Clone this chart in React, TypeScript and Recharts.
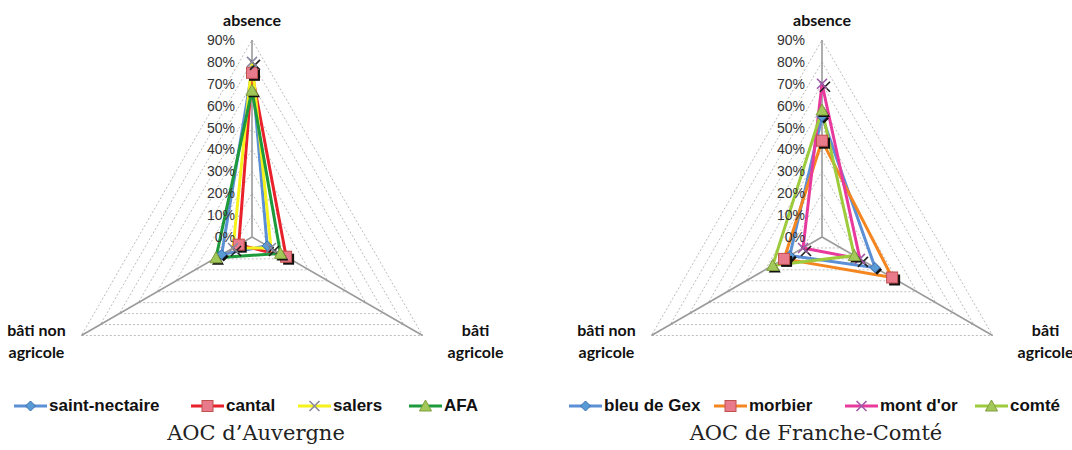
import React from "react";
import { RadarChart, Radar, PolarGrid, PolarAngleAxis, PolarRadiusAxis, Legend } from "recharts";

// axes in drawing order (clockwise from top)
const axes = ["absence", "bâti agricole", "bâti non agricole"];
const radiusTicks = [0, 10, 20, 30, 40, 50, 60, 70, 80, 90];

// AOC d'Auvergne (% per axis)
const saintNectaire = [76, 8, 16];
const cantal = [75, 18, 7];
const salers = [80, 10, 10];
const afa = [67, 15, 19];

// AOC de Franche-Comté
const bleuDeGex = [55, 28, 17];
const morbier = [44, 37, 20];
const montDor = [70, 20, 10];
const comte = [58, 17, 26];

type Kind = "diamond" | "square" | "x" | "triangle";
type Serie = { name: string; values: number[]; color: string; kind: Kind };

const auvergne: Serie[] = [
  { name: "saint-nectaire", values: saintNectaire, color: "#5b8fd6", kind: "diamond" },
  { name: "cantal", values: cantal, color: "#e8212b", kind: "square" },
  { name: "salers", values: salers, color: "#f6f21c", kind: "x" },
  { name: "AFA", values: afa, color: "#1c9a3c", kind: "triangle" },
];

const franche: Serie[] = [
  { name: "bleu de Gex", values: bleuDeGex, color: "#5b8fd6", kind: "diamond" },
  { name: "morbier", values: morbier, color: "#f5861f", kind: "square" },
  { name: "mont d'or", values: montDor, color: "#e8399c", kind: "x" },
  { name: "comté", values: comte, color: "#9dcb3c", kind: "triangle" },
];

const xColor = (s: Serie) => (s.color === "#e8399c" ? "#a05aa8" : "#8a8aa0");

function Marker({ kind, cx, cy, serie, shadow = true }: { kind: Kind; cx: number; cy: number; serie: Serie; shadow?: boolean }) {
  if (kind === "square") {
    return (
      <g>
        {shadow && <rect x={cx - 3} y={cy - 3} width={11} height={11} fill="#111" />}
        <rect x={cx - 5.5} y={cy - 5.5} width={11} height={11} fill="#e97a8c" stroke="#c0504d" strokeWidth={1} />
      </g>
    );
  }
  if (kind === "diamond") {
    return (
      <g>
        {shadow && <polygon points={`${cx + 2},${cy - 3} ${cx + 7},${cy + 2} ${cx + 2},${cy + 7} ${cx - 3},${cy + 2}`} fill="#111" />}
        <polygon points={`${cx},${cy - 5} ${cx + 5},${cy} ${cx},${cy + 5} ${cx - 5},${cy}`} fill="#5b9bd5" stroke="#3c6fb0" />
      </g>
    );
  }
  if (kind === "triangle") {
    return (
      <g>
        {shadow && <polygon points={`${cx + 2},${cy - 3} ${cx + 8},${cy + 7} ${cx - 4},${cy + 7}`} fill="#111" />}
        <polygon points={`${cx},${cy - 6} ${cx + 6},${cy + 5} ${cx - 6},${cy + 5}`} fill="#a3c85a" stroke="#7f9e3c" />
      </g>
    );
  }
  const c = xColor(serie);
  return (
    <g stroke={c} strokeWidth={1.6}>
      {shadow && <path d={`M${cx - 2},${cy - 2}L${cx + 8},${cy + 8}M${cx + 8},${cy - 2}L${cx - 2},${cy + 8}`} stroke="#222" />}
      <path d={`M${cx - 5},${cy - 5}L${cx + 5},${cy + 5}M${cx + 5},${cy - 5}L${cx - 5},${cy + 5}`} />
    </g>
  );
}

const AngleTick = (props: any) => {
  const { x, y, payload, index } = props;
  const style = { fontFamily: "Lato, 'Open Sans', sans-serif", fontWeight: 700, fontSize: 16, fill: "#111" };
  if (index === 0) {
    return <text x={x} y={y - 13} textAnchor="middle" dominantBaseline="central" {...style}>{payload.value}</text>;
  }
  const words = payload.value === "bâti agricole" ? ["bâti", "agricole"] : ["bâti non", "agricole"];
  const tx = index === 1 ? x + 46 : x - 38;
  return (
    <text textAnchor="middle" {...style}>
      <tspan x={tx} y={y - 4}>{words[0]}</tspan>
      <tspan x={tx} y={y + 18}>{words[1]}</tspan>
    </text>
  );
};

const RadiusTick = (props: any) => {
  const { x, y, payload } = props;
  return (
    <text x={x - 17} y={y} textAnchor="end" dominantBaseline="central"
      fontFamily="'Liberation Sans', Arial, sans-serif" fontSize={14} fill="#333">
      {payload.value}%
    </text>
  );
};

function LegendRow({ series, lefts }: { series: Serie[]; lefts: number[] }) {
  return (
    <div style={{ position: "relative", height: 20, fontFamily: "'Liberation Sans', Arial, sans-serif", fontWeight: 700, fontSize: 17, color: "#111", whiteSpace: "nowrap" }}>
      {series.map((s, i) => (
        <div key={s.name} style={{ position: "absolute", left: lefts[i], top: 0, display: "flex", alignItems: "center" }}>
          <svg width={35} height={16}>
            <line x1={1} y1={8} x2={34} y2={8} stroke={s.color} strokeWidth={3} />
            <Marker kind={s.kind} cx={17.5} cy={8} serie={s} shadow={false} />
          </svg>
          <span style={{ marginLeft: 1 }}>{s.name}</span>
        </div>
      ))}
    </div>
  );
}

function AocRadar({ series, caption, cx, lefts, capCenter }: { series: Serie[]; caption: string; cx: number; lefts: number[]; capCenter: number }) {
  const data = axes.map((a, i) => {
    const row: Record<string, string | number> = { axis: a };
    series.forEach((s) => { row[s.name] = s.values[i]; });
    return row;
  });
  return (
    <div style={{ position: "relative", width: 536, height: 450 }}>
      <RadarChart width={536} height={450} data={data} cx={cx} cy={237} outerRadius={197} startAngle={90} endAngle={-270}>
        <PolarGrid gridType="polygon" radialLines={false} stroke="#bdbdbd" strokeDasharray="2 2" />
        <PolarGrid gridType="polygon" polarRadius={[0]} stroke="#9a9a9a" strokeWidth={1.6} />
        <PolarAngleAxis dataKey="axis" tick={AngleTick} tickLine={false} axisLine={false} tickSize={0} />
        <PolarRadiusAxis angle={90} domain={[0, 90]} ticks={radiusTicks as any} tickCount={10} axisLine={false} tick={RadiusTick} />
        {series.map((s) => (
          <Radar key={s.name} name={s.name} dataKey={s.name} stroke={s.color} strokeWidth={3} fill="none" fillOpacity={0}
            isAnimationActive={false}
            dot={(p: any) => <Marker key={`${s.name}-${p.index}`} kind={s.kind} cx={p.cx} cy={p.cy} serie={s} />} />
        ))}
        <Legend wrapperStyle={{ position: "absolute", top: 396, left: 0, width: 536 }}
          content={() => <LegendRow series={series} lefts={lefts} />} />
      </RadarChart>
      <div style={{ position: "absolute", top: 421, left: capCenter - 200, width: 400, textAlign: "center", fontFamily: "'DejaVu Serif', serif", fontSize: 21, color: "#222", whiteSpace: "nowrap" }}>
        {caption}
      </div>
    </div>
  );
}

export default function App() {
  return (
    <div style={{ position: "absolute", left: 0, top: 0, width: 1072, height: 450, background: "#fff", display: "flex" }}>
      <AocRadar series={auvergne} caption="AOC d’Auvergne" cx={252} lefts={[13, 190, 297, 408]} capCenter={256} />
      <AocRadar series={franche} caption="AOC de Franche-Comté" cx={286} lefts={[32, 177, 308, 438]} capCenter={280} />
    </div>
  );
}
